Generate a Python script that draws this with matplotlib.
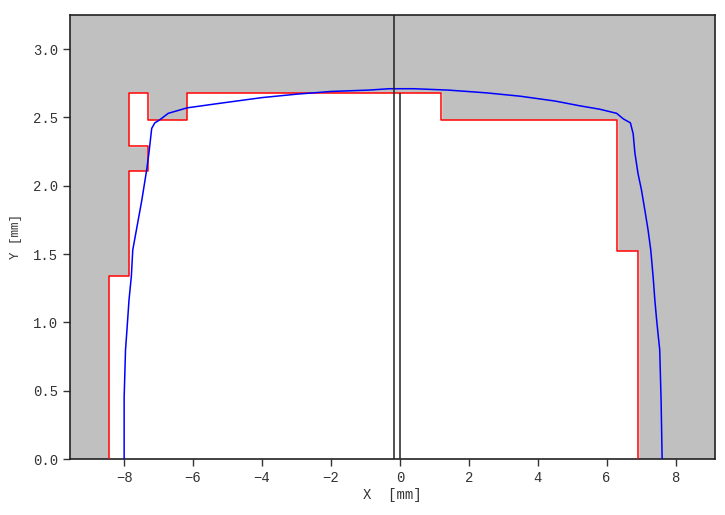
import matplotlib
matplotlib.use("Agg")
import matplotlib.pyplot as plt

# red step profile (polygon outline, mm)
red_x = [-8.43, -8.43, -7.86, -7.86, -7.31, -7.31, -7.86, -7.86, -7.30, -7.30,
         -6.17, -6.17, 1.19, 1.19, 6.30, 6.30, 6.90, 6.90]
red_y = [0.0, 1.34, 1.34, 2.11, 2.11, 2.29, 2.29, 2.68, 2.68, 2.48,
         2.48, 2.68, 2.68, 2.48, 2.48, 1.52, 1.52, 0.0]

# blue measured contour
blue_x = [-8.00, -8.00, -7.96, -7.92, -7.86, -7.79, -7.75, -7.49, -7.35, -7.28,
          -7.20, -7.11, -6.98, -6.72, -6.17, -5.32, -4.0, -3.0, -2.0, -0.9,
          -0.3, 0.4, 1.4, 2.5, 3.5, 4.5, 5.22, 5.80, 6.29, 6.48, 6.69, 6.77,
          6.82, 6.91, 7.01, 7.11, 7.20, 7.28, 7.35, 7.40, 7.45, 7.49, 7.54,
          7.58, 7.61]
blue_y = [0.0, 0.45, 0.80, 0.94, 1.16, 1.34, 1.53, 1.89, 2.11, 2.24,
          2.42, 2.46, 2.48, 2.53, 2.57, 2.60, 2.645, 2.67, 2.69, 2.70,
          2.71, 2.71, 2.70, 2.68, 2.655, 2.62, 2.585, 2.56, 2.53, 2.49, 2.46, 2.38,
          2.24, 2.09, 1.97, 1.82, 1.68, 1.53, 1.33, 1.16, 1.02, 0.92, 0.80,
          0.43, 0.0]

axis_x = -0.17
center_x = 0.0
center_top = 2.68

plt.rcParams['font.family'] = ['Liberation Mono', 'DejaVu Sans Mono']

fig = plt.figure(figsize=(7.25, 5.15), dpi=100)
ax = fig.add_axes([0.0966, 0.1087, 0.8894, 0.8623])
ax.set_facecolor('#c0c0c0')

ax.fill(red_x, red_y, color='white', zorder=1)
ax.plot(red_x, red_y, color='#ff0000', lw=1.1, zorder=3)
ax.plot(blue_x, blue_y, color='#0000ff', lw=1.1, zorder=4)
ax.axvline(axis_x, color='#222222', lw=1.1, zorder=5)
ax.vlines(center_x, 0, center_top, color='#222222', lw=1.1, zorder=5)

ax.set_xlim(-9.57, 9.14)
ax.set_ylim(0, 3.25)
ax.set_xticks([-8, -6, -4, -2, 0, 2, 4, 6, 8])
ax.set_yticks([0, 0.5, 1.0, 1.5, 2.0, 2.5, 3.0])
ax.set_yticklabels(['0.0', '0.5', '1.0', '1.5', '2.0', '2.5', '3.0'])
ax.tick_params(direction='out', length=5, width=1, labelsize=10, colors='#333333')
for s in ax.spines.values():
    s.set_color('#222222')
    s.set_linewidth(1.2)

ax.set_xlabel('X  [mm]', fontsize=10, color='#333333', labelpad=2)
ax.set_ylabel('Y [mm]', fontsize=9, color='#333333', labelpad=8)

fig.savefig('out.png', dpi=100)
